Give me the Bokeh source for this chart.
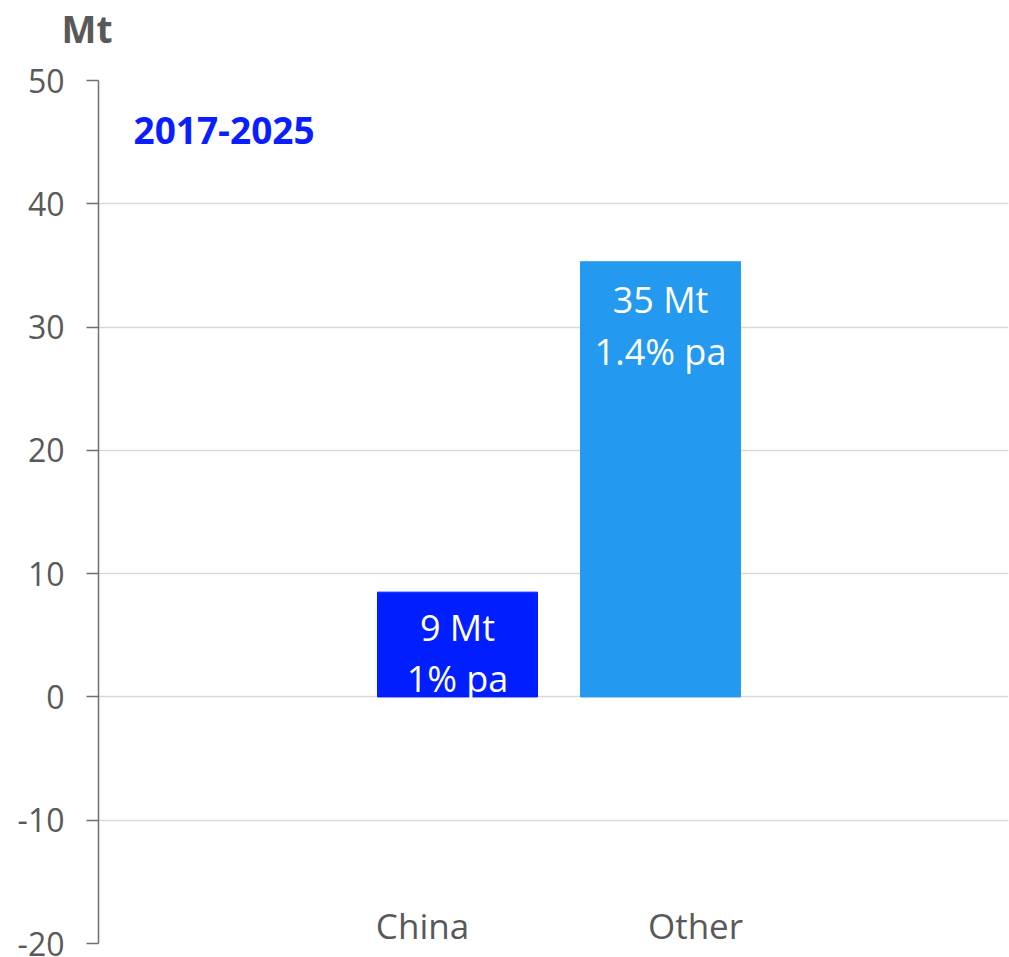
from bokeh.plotting import figure
from bokeh.models import ColumnDataSource, Range1d, FixedTicker, Label
from bokeh.core.properties import value
from bokeh.embed import file_html
from bokeh.resources import INLINE

# ---- data ----
categories = ["China", "Other"]
values = [8.5, 35.3]
label_line1 = ["9 Mt", "35 Mt"]
label_line2 = ["1% pa", "1.4% pa"]
bar_colors = ["#001EFF", "#239AEF"]
unit_label = "Mt"
period_label = "2017-2025"
y_ticks = [-20, -10, 0, 10, 20, 30, 40, 50]
y_tick_text = ["-20", "-10", "0", "10", "20", "30", "40", "50"]

FONT = "Open Sans"
GRAY = "#595959"

W, H = 1009, 957
LEFT, RIGHT, TOP, BOTTOM = 98, 1, 78, 14
frame_w = W - LEFT - RIGHT
frame_h = H - TOP - BOTTOM
step_px = 203.0
x_start = -359.0 / step_px
x_end = x_start + frame_w / step_px
y0, y1 = -20, 50
px_per_unit = frame_h / (y1 - y0)

xs = list(range(len(categories)))
src = ColumnDataSource(dict(x=xs, top=values, color=bar_colors, l1=label_line1,
                            l2=label_line2, cat=categories,
                            cat_off=[-35, 35], ylab=[y0 + 1.5] * len(xs),
                            off1=[35, 38], off2=[86, 90]))

p = figure(width=W, height=H, output_backend="svg", toolbar_location=None,
           x_range=Range1d(x_start, x_end), y_range=Range1d(y0, y1),
           x_axis_type=None, min_border_left=LEFT, min_border_right=RIGHT,
           min_border_top=TOP, min_border_bottom=BOTTOM)
p.outline_line_color = None
p.background_fill_color = "white"
p.border_fill_color = "white"

p.title.text = unit_label + "\n\u00a0"
p.title.align = "left"
p.title.offset = -37
p.title.text_font = FONT
p.title.text_font_style = "bold"
p.title.text_font_size = "37px"
p.title.text_line_height = 0.52
p.title.text_color = GRAY
p.title.standoff = 0

p.xgrid.visible = False
p.ygrid.grid_line_color = "#D9D9D9"
p.ygrid.grid_line_width = 1.5

ax = p.yaxis[0]
ax.ticker = FixedTicker(ticks=y_ticks)
ax.major_label_overrides = {t: s for t, s in zip(y_ticks, y_tick_text)}
ax.axis_line_color = "#707070"
ax.axis_line_width = 1.5
ax.major_tick_line_color = "#707070"
ax.major_tick_line_width = 1.5
ax.major_tick_out = 12
ax.major_tick_in = 0
ax.minor_tick_line_color = None
ax.major_label_standoff = 22
ax.major_label_text_font = FONT
ax.major_label_text_font_size = "32px"
ax.major_label_text_color = GRAY

bar_w = 160 / step_px
p.vbar(x="x", top="top", bottom=0, width=bar_w, color="color", source=src)

p.text(x="x", y="top", text="l1", source=src, text_align="center", text_baseline="middle",
       y_offset="off1", text_color="white", text_font=value(FONT), text_font_size="36px")
p.text(x="x", y="top", text="l2", source=src, text_align="center", text_baseline="middle",
       y_offset="off2", text_color="white", text_font=value(FONT), text_font_size="36px")

p.text(x="x", y="ylab", text="cat", source=src, x_offset="cat_off", text_align="center",
       text_baseline="middle", text_color=GRAY, text_font=value(FONT), text_font_size="35px")

p.add_layout(Label(x=x_start + 35 / step_px, y=(696 - 128) / px_per_unit, text=period_label,
                   text_font=FONT, text_font_style="bold", text_font_size="37px",
                   text_color="#0A1EFF", text_align="left", text_baseline="middle"))

open("out.html", "w").write(file_html(p, INLINE))
